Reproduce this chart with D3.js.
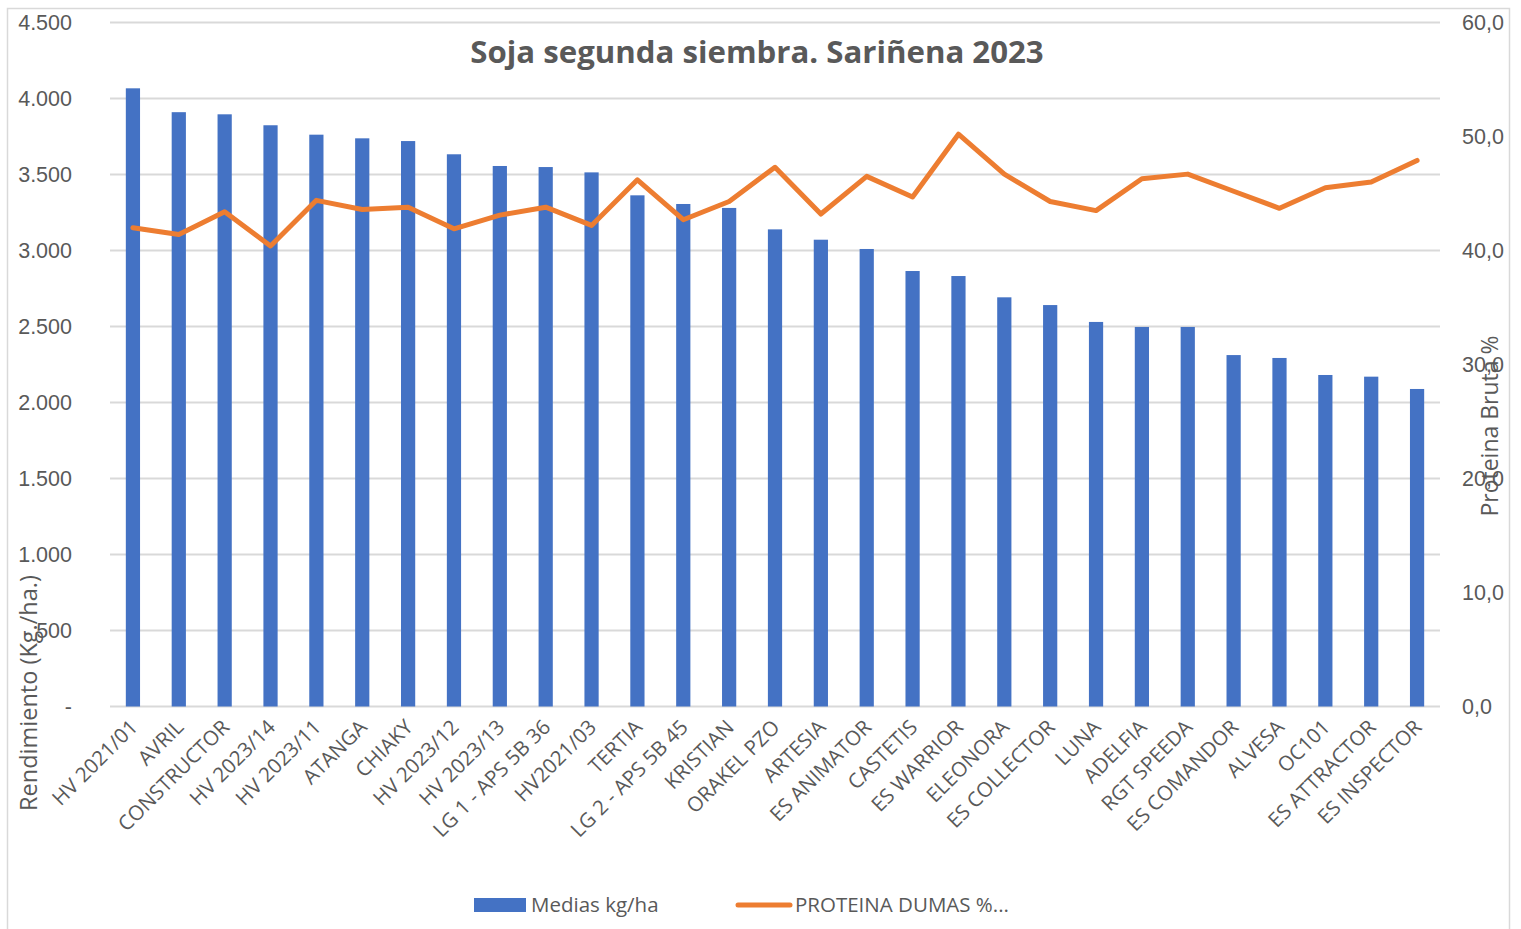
<!DOCTYPE html>
<html>
<head>
<meta charset="utf-8">
<script src="https://cdn.jsdelivr.net/npm/d3@7"></script>
<style>
  html, body { margin: 0; padding: 0; background: #fff; }
  svg { display: block; font-family: "Open Sans", sans-serif; }
</style>
</head>
<body>
<svg id="chart" width="1521" height="929"></svg>
<script>
const categories = [
  "HV 2021/01", "AVRIL", "CONSTRUCTOR", "HV 2023/14", "HV 2023/11", "ATANGA",
  "CHIAKY", "HV 2023/12", "HV 2023/13", "LG 1 - APS 5B 36", "HV2021/03", "TERTIA",
  "LG 2 - APS 5B 45", "KRISTIAN", "ORAKEL PZO", "ARTESIA", "ES ANIMATOR", "CASTETIS",
  "ES WARRIOR", "ELEONORA", "ES COLLECTOR", "LUNA", "ADELFIA", "RGT SPEEDA",
  "ES COMANDOR", "ALVESA", "OC101", "ES ATTRACTOR", "ES INSPECTOR"
];
const yieldKgHa = [
  4067, 3910, 3896, 3824, 3762, 3738, 3720, 3633, 3556, 3549, 3514, 3363,
  3306, 3280, 3139, 3071, 3010, 2865, 2832, 2692, 2641, 2530, 2497, 2497,
  2312, 2293, 2181, 2170, 2089
];
const proteinPct = [
  42.0, 41.4, 43.4, 40.4, 44.4, 43.6, 43.8, 41.9, 43.1, 43.8, 42.2, 46.2,
  42.7, 44.3, 47.3, 43.2, 46.5, 44.7, 50.2, 46.7, 44.3, 43.5, 46.3, 46.7,
  45.2, 43.7, 45.5, 46.0, 47.9
];
const leftTicks = [0, 500, 1000, 1500, 2000, 2500, 3000, 3500, 4000, 4500];
const rightTicks = [0, 10, 20, 30, 40, 50, 60];

const title = "Soja segunda siembra. Sariñena 2023";
const leftTitle = "Rendimiento (Kg./ha.)";
const rightTitle = "Proteina Bruta %";
const barName = "Medias kg/ha";
const lineName = "PROTEINA DUMAS %...";

const plot = { left: 110, right: 1440, top: 22.5, bottom: 706.5 };
const textColor = "#595959";
const gridColor = "#d9d9d9";
const barColor = "#4472c4";
const lineColor = "#ed7d31";

const locale = d3.formatLocale({ decimal: ",", thousands: ".", grouping: [3], currency: ["", ""] });
const fmtLeft = v => v === 0 ? "-" : locale.format(",")(v);
const fmtRight = locale.format(".1f");

const svg = d3.select("#chart");

// chart frame
svg.append("rect")
  .attr("x", 7.5).attr("y", 8.5)
  .attr("width", 1502).attr("height", 940)
  .attr("fill", "#fff")
  .attr("stroke", gridColor)
  .attr("stroke-width", 1.5);

const x = d3.scaleBand().domain(categories).range([plot.left, plot.right]).paddingInner(0.69).paddingOuter(0.345);
const y = d3.scaleLinear().domain([0, 4500]).range([plot.bottom, plot.top]);
const y2 = d3.scaleLinear().domain([0, 60]).range([plot.bottom, plot.top]);

// gridlines
svg.append("g")
  .selectAll("line")
  .data(leftTicks)
  .join("line")
  .attr("x1", plot.left).attr("x2", plot.right)
  .attr("y1", d => y(d)).attr("y2", d => y(d))
  .attr("stroke", gridColor)
  .attr("stroke-width", 2);

// left axis
const leftAxis = svg.append("g")
  .attr("transform", `translate(72,0)`)
  .call(d3.axisLeft(y).tickValues(leftTicks).tickFormat(fmtLeft).tickSize(0).tickPadding(0));
leftAxis.select(".domain").remove();
leftAxis.selectAll("text")
  .attr("fill", textColor)
  .style("font-size", "21.5px");

// right axis
const rightAxis = svg.append("g")
  .attr("transform", `translate(1462,0)`)
  .call(d3.axisRight(y2).tickValues(rightTicks).tickFormat(fmtRight).tickSize(0).tickPadding(0));
rightAxis.select(".domain").remove();
rightAxis.selectAll("text")
  .attr("fill", textColor)
  .style("font-size", "21.5px");

// bars
svg.append("g")
  .selectAll("rect")
  .data(categories.map((c, i) => ({ c, v: yieldKgHa[i] })))
  .join("rect")
  .attr("x", d => x(d.c))
  .attr("y", d => y(d.v))
  .attr("width", x.bandwidth())
  .attr("height", d => y(0) - y(d.v))
  .attr("fill", barColor);

// line
const line = d3.line()
  .x(d => x(d.c) + x.bandwidth() / 2)
  .y(d => y2(d.v));
svg.append("path")
  .datum(categories.map((c, i) => ({ c, v: proteinPct[i] })))
  .attr("d", line)
  .attr("fill", "none")
  .attr("stroke", lineColor)
  .attr("stroke-width", 5)
  .attr("stroke-linejoin", "round")
  .attr("stroke-linecap", "round");

// category labels
svg.append("g")
  .selectAll("text")
  .data(categories)
  .join("text")
  .attr("transform", d => `translate(${x(d) + x.bandwidth() / 2 + 6},${plot.bottom + 22}) rotate(-45)`)
  .attr("text-anchor", "end")
  .attr("fill", textColor)
  .style("font-size", "20.5px")
  .text(d => d);

// title
svg.append("text")
  .attr("x", 757).attr("y", 63)
  .attr("text-anchor", "middle")
  .attr("fill", textColor)
  .style("font-size", "31.2px")
  .style("font-weight", "bold")
  .text(title);

// axis titles
svg.append("text")
  .attr("transform", `translate(37,693) rotate(-90)`)
  .attr("text-anchor", "middle")
  .attr("fill", textColor)
  .style("font-size", "23.5px")
  .text(leftTitle);

svg.append("text")
  .attr("transform", `translate(1498,426) rotate(-90)`)
  .attr("text-anchor", "middle")
  .attr("fill", textColor)
  .style("font-size", "23px")
  .text(rightTitle);

// legend
const legend = svg.append("g");
legend.append("rect")
  .attr("x", 474).attr("y", 898)
  .attr("width", 52).attr("height", 14)
  .attr("fill", barColor);
legend.append("text")
  .attr("x", 531).attr("y", 912)
  .attr("fill", textColor)
  .style("font-size", "20.5px")
  .text(barName);
legend.append("line")
  .attr("x1", 738).attr("x2", 790)
  .attr("y1", 905).attr("y2", 905)
  .attr("stroke", lineColor)
  .attr("stroke-width", 5)
  .attr("stroke-linecap", "round");
legend.append("text")
  .attr("x", 795).attr("y", 912)
  .attr("fill", textColor)
  .style("font-size", "20.5px")
  .text(lineName);
</script>
</body>
</html>
